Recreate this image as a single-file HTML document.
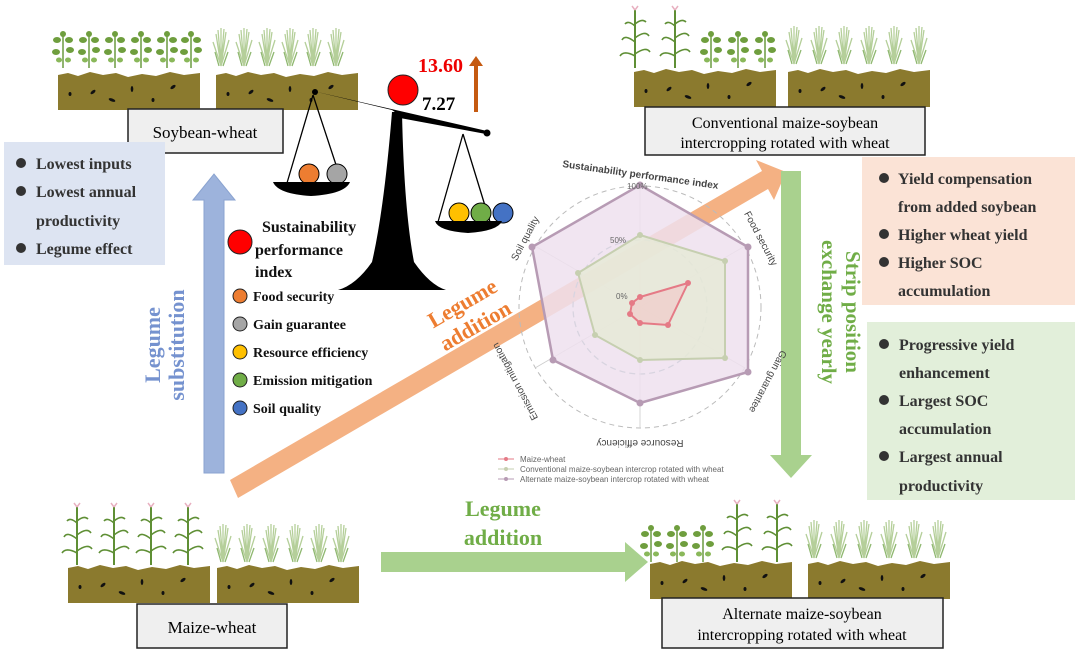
<!DOCTYPE html>
<html><head><meta charset="utf-8"><style>
html,body{margin:0;padding:0;background:#fff;}
svg{display:block;font-family:"Liberation Serif",serif;}
.b{font-weight:bold;}
.s{font-family:"Liberation Sans",sans-serif;}
</style></head><body>
<svg width="1080" height="652" viewBox="0 0 1080 652" xmlns="http://www.w3.org/2000/svg">
<defs>
<g id="soil">
<path d="M0,5 L10,3 L20,6 L32,2 L45,5 L58,3 L70,7 L84,4 L98,6 L112,2 L126,5 L142,3 L142,40 L0,40Z" fill="#8b7a2e"/>
<g fill="#111"><ellipse cx="12" cy="24" rx="1.5" ry="2"/><ellipse cx="35" cy="22" rx="3" ry="1.5" transform="rotate(-40 35 22)"/><ellipse cx="54" cy="30" rx="3.5" ry="1.5" transform="rotate(20 54 30)"/><ellipse cx="74" cy="19" rx="1.3" ry="3"/><ellipse cx="95" cy="30" rx="1.5" ry="2"/><ellipse cx="115" cy="17" rx="3" ry="1.5" transform="rotate(-35 115 17)"/></g>
</g>
<g id="wheat" stroke="#b5cf9a" stroke-width="1.3" fill="none">
<path d="M11,42 L6,10 M11,42 L11,4 M11,42 L16,8 M11,42 L3,18 M11,42 L19,16 M11,42 L8,6 M11,42 L14,5"/>
<path d="M9,42 L5,28 M13,42 L18,28" stroke="#8fb870"/>
</g>
<g id="soy">
<path d="M11,38 L11,4" stroke="#6a9a40" stroke-width="1.5"/>
<g fill="#6f9e3e"><ellipse cx="5" cy="10" rx="4" ry="3"/><ellipse cx="17" cy="10" rx="4" ry="3"/><ellipse cx="11" cy="4" rx="3" ry="3"/><ellipse cx="4" cy="22" rx="4" ry="3"/><ellipse cx="18" cy="20" rx="4" ry="3"/><ellipse cx="7" cy="30" rx="3" ry="2.5" fill="#8ab85a"/><ellipse cx="16" cy="30" rx="3" ry="2.5" fill="#8ab85a"/></g>
</g>
<g id="maize" fill="none" stroke="#5f8f35" stroke-width="2">
<path d="M15,62 L15,4"/>
<path d="M15,50 Q4,44 0,50 M15,48 Q26,40 30,46 M15,36 Q5,28 2,34 M15,32 Q25,24 29,30 M15,20 Q8,14 5,18 M15,18 Q22,12 26,16" stroke-width="1.6"/>
<path d="M15,4 L12,0 M15,4 L18,0" stroke="#e8b0c0" stroke-width="1.5"/>
</g>
</defs>

<!-- Soybean-wheat top left -->
<g transform="translate(52,30)"><use href="#soy"/><use href="#soy" x="26"/><use href="#soy" x="52"/><use href="#soy" x="78"/><use href="#soy" x="104"/><use href="#soy" x="128"/></g>
<g transform="translate(210,24)"><use href="#wheat"/><use href="#wheat" x="23"/><use href="#wheat" x="46"/><use href="#wheat" x="69"/><use href="#wheat" x="92"/><use href="#wheat" x="115"/></g>
<use href="#soil" x="58" y="70"/><use href="#soil" x="216" y="70"/>
<rect x="128" y="109" width="155" height="44" fill="#efefef" stroke="#222" stroke-width="1.5"/>
<text x="205" y="138" text-anchor="middle" font-size="17">Soybean-wheat</text>

<!-- Top right conventional -->
<g transform="translate(620,6)"><use href="#maize"/><use href="#maize" x="40"/></g>
<g transform="translate(700,30)"><use href="#soy"/><use href="#soy" x="27"/><use href="#soy" x="54"/></g>
<g transform="translate(783,22)"><use href="#wheat"/><use href="#wheat" x="25"/><use href="#wheat" x="50"/><use href="#wheat" x="75"/><use href="#wheat" x="100"/><use href="#wheat" x="125"/></g>
<use href="#soil" x="634" y="67"/><use href="#soil" x="788" y="67"/>
<rect x="645" y="107" width="280" height="48" fill="#efefef" stroke="#222" stroke-width="1.5"/>
<text x="785" y="128" text-anchor="middle" font-size="16">Conventional maize-soybean</text>
<text x="785" y="148" text-anchor="middle" font-size="16">intercropping rotated with wheat</text>

<!-- Bottom left maize-wheat -->
<g transform="translate(62,503)"><use href="#maize"/><use href="#maize" x="37"/><use href="#maize" x="74"/><use href="#maize" x="111"/></g>
<g transform="translate(212,520)"><use href="#wheat"/><use href="#wheat" x="24"/><use href="#wheat" x="48"/><use href="#wheat" x="72"/><use href="#wheat" x="96"/><use href="#wheat" x="118"/></g>
<use href="#soil" x="68" y="563"/><use href="#soil" x="217" y="563"/>
<rect x="137" y="604" width="150" height="44" fill="#efefef" stroke="#222" stroke-width="1.5"/>
<text x="212" y="633" text-anchor="middle" font-size="17">Maize-wheat</text>

<!-- Bottom right alternate -->
<g transform="translate(640,524)"><use href="#soy"/><use href="#soy" x="26"/><use href="#soy" x="52"/></g>
<g transform="translate(722,500)"><use href="#maize"/><use href="#maize" x="40"/></g>
<g transform="translate(803,516)"><use href="#wheat"/><use href="#wheat" x="25"/><use href="#wheat" x="50"/><use href="#wheat" x="75"/><use href="#wheat" x="100"/><use href="#wheat" x="124"/></g>
<use href="#soil" x="650" y="559"/><use href="#soil" x="808" y="559"/>
<rect x="662" y="598" width="281" height="50" fill="#efefef" stroke="#222" stroke-width="1.5"/>
<text x="802" y="619" text-anchor="middle" font-size="16">Alternate maize-soybean</text>
<text x="802" y="640" text-anchor="middle" font-size="16">intercropping rotated with wheat</text>

<!-- Blue box -->
<rect x="4" y="142" width="161" height="123" fill="#dde4f2"/>
<g font-size="16" class="b" fill="#333">
<circle cx="21" cy="163" r="5" fill="#333"/><text x="36" y="169">Lowest inputs</text>
<circle cx="21" cy="191" r="5" fill="#333"/><text x="36" y="197">Lowest annual</text>
<text x="36" y="226">productivity</text>
<circle cx="21" cy="248" r="5" fill="#333"/><text x="36" y="254">Legume effect</text>
</g>

<!-- Blue arrow up -->
<path d="M204,473 L204,200 L193,200 L214,174 L235,200 L224,200 L224,473Z" fill="#9db3dc" stroke="#8aa3d0"/>
<g transform="translate(160,345) rotate(-90)" fill="#7592cf" class="b" font-size="22" text-anchor="middle">
<text x="0" y="0">Legume</text><text x="0" y="24">substitution</text></g>

<!-- Orange diagonal arrow -->
<path d="M230,480 L762,171 L756,160 L786,172 L774,200 L768,189 L238,498Z" fill="#f4b183"/>

<!-- Green arrow down -->
<path d="M781,171 L801,171 L801,455 L812,455 L791,478 L770,455 L781,455Z" fill="#a9d18e"/>
<g transform="translate(846,312) rotate(90)" fill="#70ad47" class="b" font-size="21" text-anchor="middle">
<text x="0" y="0">Strip position</text><text x="0" y="24">exchange yearly</text></g>

<!-- Green horizontal arrow -->
<path d="M381,552 L625,552 L625,542 L648,562 L625,582 L625,572 L381,572Z" fill="#a9d18e"/>
<text x="503" y="516" text-anchor="middle" fill="#70ad47" class="b" font-size="22">Legume</text>
<text x="503" y="545" text-anchor="middle" fill="#70ad47" class="b" font-size="22">addition</text>

<!-- Pink box -->
<rect x="862" y="157" width="213" height="148" fill="#fbe3d6"/>
<g font-size="16" class="b" fill="#333">
<circle cx="884" cy="178" r="5" fill="#333"/><text x="898" y="184">Yield compensation</text>
<text x="898" y="212">from added soybean</text>
<circle cx="884" cy="234" r="5" fill="#333"/><text x="898" y="240">Higher wheat yield</text>
<circle cx="884" cy="262" r="5" fill="#333"/><text x="898" y="268">Higher SOC</text>
<text x="898" y="296">accumulation</text>
</g>
<!-- Green box -->
<rect x="867" y="322" width="208" height="178" fill="#e2efda"/>
<g font-size="16" class="b" fill="#333">
<circle cx="884" cy="344" r="5" fill="#333"/><text x="899" y="350">Progressive yield</text>
<text x="899" y="378">enhancement</text>
<circle cx="884" cy="400" r="5" fill="#333"/><text x="899" y="406">Largest SOC</text>
<text x="899" y="434">accumulation</text>
<circle cx="884" cy="456" r="5" fill="#333"/><text x="899" y="462">Largest annual</text>
<text x="899" y="491">productivity</text>
</g>

<!-- Radar chart -->
<g>
<circle cx="640" cy="307" r="121" fill="none" stroke="#bbb" stroke-dasharray="5,4"/>
<circle cx="640" cy="307" r="67" fill="none" stroke="#5a8a8a" stroke-dasharray="6,4" stroke-width="1.3"/>
<g stroke="#ccc" stroke-width="0.8"><path d="M640,307 L640,186 M640,307 L745,246 M640,307 L745,368 M640,307 L640,428 M640,307 L535,368 M640,307 L535,246"/></g>
<polygon points="640,185 748,247 748,372 640,403 553,360 532,247" fill="#efe0ee" fill-opacity="0.85" stroke="#b79bb4" stroke-width="2.5"/>
<polygon points="640,235 725,261 725,358 640,360 595,335 578,273" fill="#e6ead6" fill-opacity="0.8" stroke="#c6cfb0" stroke-width="2"/>
<polygon points="640,297 688,283 668,325 640,323 630,314 632,303" fill="#f2c6c6" fill-opacity="0.6" stroke="#e57a86" stroke-width="2"/>
<g fill="#b79bb4"><circle cx="640" cy="185" r="3.5"/><circle cx="748" cy="247" r="3.5"/><circle cx="748" cy="372" r="3.5"/><circle cx="640" cy="403" r="3.5"/><circle cx="553" cy="360" r="3.5"/><circle cx="532" cy="247" r="3.5"/></g>
<g fill="#c6cfb0"><circle cx="640" cy="235" r="3"/><circle cx="725" cy="261" r="3"/><circle cx="725" cy="358" r="3"/><circle cx="640" cy="360" r="3"/><circle cx="595" cy="335" r="3"/><circle cx="578" cy="273" r="3"/></g>
<g fill="#e57a86"><circle cx="640" cy="297" r="3"/><circle cx="688" cy="283" r="3"/><circle cx="668" cy="325" r="3"/><circle cx="640" cy="323" r="3"/><circle cx="630" cy="314" r="3"/><circle cx="632" cy="303" r="3"/></g>
<g class="s" font-size="8" fill="#666"><text x="627" y="189">100%</text><text x="610" y="243">50%</text><text x="616" y="299">0%</text></g>
<g class="s" font-size="10" fill="#444">
<text x="640" y="178" text-anchor="middle" font-weight="bold" transform="rotate(8 640 178)">Sustainability performance index</text>
<text x="0" y="0" transform="translate(758,240) rotate(62)" text-anchor="middle">Food security</text>
<text x="0" y="0" transform="translate(765,380) rotate(118)" text-anchor="middle">Gain guarantee</text>
<text x="0" y="0" transform="translate(640,440) rotate(180)" text-anchor="middle">Resource efficiency</text>
<text x="0" y="0" transform="translate(518,380) rotate(-118)" text-anchor="middle">Emission mitigation</text>
<text x="0" y="0" transform="translate(528,240) rotate(-62)" text-anchor="middle">Soil quality</text>
</g>
<g class="s" font-size="8" fill="#666">
<line x1="498" y1="459" x2="514" y2="459" stroke="#e57a86"/><circle cx="506" cy="459" r="2" fill="#e57a86"/><text x="520" y="462">Maize-wheat</text>
<line x1="498" y1="469" x2="514" y2="469" stroke="#c6cfb0"/><circle cx="506" cy="469" r="2" fill="#c6cfb0"/><text x="520" y="472">Conventional maize-soybean intercrop rotated with wheat</text>
<line x1="498" y1="479" x2="514" y2="479" stroke="#b79bb4"/><circle cx="506" cy="479" r="2" fill="#b79bb4"/><text x="520" y="482">Alternate maize-soybean intercrop rotated with wheat</text>
</g>
</g>
<g transform="translate(472,320) rotate(-30)" fill="#ed7d31" class="b" font-size="22" text-anchor="middle">
<text x="0" y="-12">Legume</text><text x="0" y="14">addition</text></g>

<!-- Balance -->
<path d="M392,112 L402,112 Q404,210 414,262 Q430,285 446,290 L338,290 Q356,285 372,262 Q384,210 392,112Z" fill="#000"/>
<path d="M313,91 L487,131 L486,134 L400,118 Q397,113 392,110Z" fill="#000"/>
<circle cx="315" cy="92" r="3" fill="#000"/><circle cx="487" cy="133" r="3.5" fill="#000"/>
<g stroke="#000" stroke-width="1.3" fill="none"><path d="M313,95 L287,183 M313,95 L342,183 M463,134 L438,222 M463,134 L490,222"/></g>
<circle cx="309" cy="174" r="10" fill="#ed7d31" stroke="#000"/>
<circle cx="337" cy="174" r="10" fill="#a5a5a5" stroke="#000"/>
<path d="M273,182 L350,182 Q345,194 311,196 Q278,194 273,182Z" fill="#000"/>
<circle cx="459" cy="213" r="10" fill="#ffc000" stroke="#000"/>
<circle cx="481" cy="213" r="10" fill="#70ad47" stroke="#000"/>
<circle cx="503" cy="213" r="10" fill="#4472c4" stroke="#000"/>
<path d="M435,221 L502,221 Q498,231 468,233 Q438,231 435,221Z" fill="#000"/>
<circle cx="403" cy="90" r="15" fill="#f00" stroke="#222"/>
<text x="418" y="72" fill="#e00" class="b" font-size="20">13.60</text>
<text x="422" y="110" fill="#000" class="b" font-size="19">7.27</text>
<path d="M474,112 L474,66 L469,66 L476,56 L483,66 L478,66 L478,112Z" fill="#c55a11"/>

<!-- Legend -->
<circle cx="240" cy="242" r="12" fill="#f00" stroke="#222"/>
<g class="b" font-size="16" fill="#111">
<text x="262" y="232">Sustainability</text><text x="255" y="255">performance</text><text x="255" y="277">index</text>
</g>
<g class="b" font-size="14" fill="#111">
<circle cx="240" cy="296" r="7" fill="#ed7d31" stroke="#222"/><text x="253" y="301">Food security</text>
<circle cx="240" cy="324" r="7" fill="#a5a5a5" stroke="#222"/><text x="253" y="329">Gain guarantee</text>
<circle cx="240" cy="352" r="7" fill="#ffc000" stroke="#222"/><text x="253" y="357">Resource efficiency</text>
<circle cx="240" cy="380" r="7" fill="#70ad47" stroke="#222"/><text x="253" y="385">Emission mitigation</text>
<circle cx="240" cy="408" r="7" fill="#4472c4" stroke="#222"/><text x="253" y="413">Soil quality</text>
</g>
</svg>
</body></html>
